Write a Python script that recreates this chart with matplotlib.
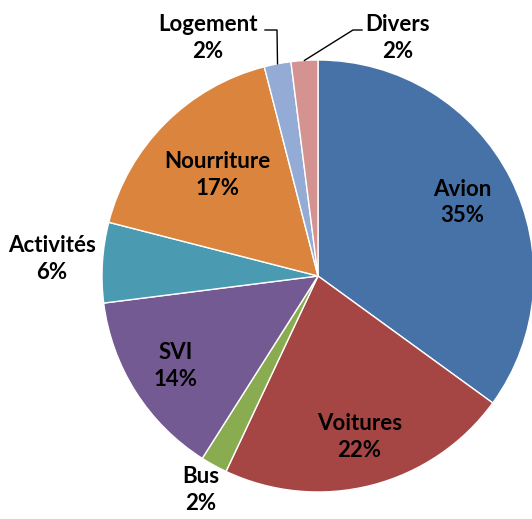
import numpy as np
import matplotlib.pyplot as plt

# Data
labels = ['Avion', 'Voitures', 'Bus', 'SVI', 'Activités', 'Nourriture', 'Logement', 'Divers']
shares = [35, 22, 2, 14, 6, 17, 2, 2]
colors = ['#4672A8', '#A64644', '#8AAC51', '#745A92', '#4A9AB2', '#DB843D', '#94ACD5', '#D49391']

# label distance (fraction of radius) per slice
label_dist = [0.75, 0.77, 1.13, 0.78, 1.235, 0.66, None, None]

fig = plt.figure(figsize=(5.32, 5.19), dpi=100)
ax = fig.add_axes([0, 0, 1, 1])

cx, cy, R = 318, 243, 216
wedges, _ = ax.pie(shares, colors=colors, startangle=90, counterclock=False,
                   center=(cx, cy), radius=R, frame=True,
                   wedgeprops=dict(edgecolor='white', linewidth=1))
ax.set_xlim(0, 532)
ax.set_ylim(0, 519)
ax.set_aspect('equal')
ax.axis('off')

font = dict(family=['Lato', 'DejaVu Sans'], fontweight='bold', fontsize=16,
            ha='center', va='center', linespacing=1.33)

for w, lab, s, d in zip(wedges, labels, shares, label_dist):
    mid = np.deg2rad((w.theta1 + w.theta2) / 2)
    if d is not None:
        ax.text(cx + d * R * np.cos(mid), cy + d * R * np.sin(mid),
                f'{lab}\n{s}%', **font)

# Logement and Divers with leader lines: (wedge, label, share, text x, elbow start, elbow end)
for w, lab, s, tx, hx, kx in [(wedges[6], labels[6], shares[6], 208, 265, 277),
                              (wedges[7], labels[7], shares[7], 398, 362, 353)]:
    mid = np.deg2rad((w.theta1 + w.theta2) / 2)
    ex, ey = cx + R * np.cos(mid), cy + R * np.sin(mid)
    ty = 519 - 38
    ax.text(tx, ty, f'{lab}\n{s}%', **font)
    ax.plot([hx, kx, ex], [519 - 30, 519 - 30, ey], color='black', lw=1)

plt.savefig('out.png', dpi=100)
